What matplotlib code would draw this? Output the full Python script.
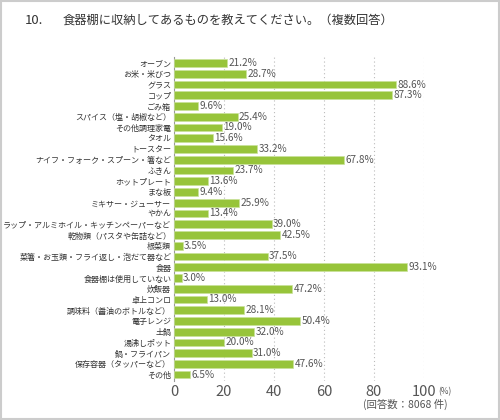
import numpy as np
import matplotlib
matplotlib.use("Agg")
import matplotlib.pyplot as plt
from matplotlib.patches import Rectangle

plt.rcParams['font.family'] = ['Noto Sans CJK JP', 'DejaVu Sans']

# データ
labels = [
    "オーブン", "お米・米びつ", "グラス", "コップ", "ごみ箱",
    "スパイス（塩・胡椒など）", "その他調理家電", "タオル", "トースター",
    "ナイフ・フォーク・スプーン・箸など", "ふきん", "ホットプレート", "まな板",
    "ミキサー・ジューサー", "やかん", "ラップ・アルミホイル・キッチンペーパーなど",
    "乾物類（パスタや缶詰など）", "根菜類", "菜箸・お玉類・フライ返し・泡だて器など",
    "食器", "食器棚は使用していない", "炊飯器", "卓上コンロ",
    "調味料（醤油のボトルなど）", "電子レンジ", "土鍋", "湯沸しポット",
    "鍋・フライパン", "保存容器（タッパーなど）", "その他",
]
values = [21.2, 28.7, 88.6, 87.3, 9.6, 25.4, 19.0, 15.6, 33.2, 67.8,
          23.7, 13.6, 9.4, 25.9, 13.4, 39.0, 42.5, 3.5, 37.5, 93.1,
          3.0, 47.2, 13.0, 28.1, 50.4, 32.0, 20.0, 31.0, 47.6, 6.5]
xticks = [0, 20, 40, 60, 80, 100]

GREEN = "#97c43a"
TXT = "#333333"

fig = plt.figure(figsize=(5, 4.2), dpi=100)
ax = fig.add_axes([0.348, 0.094, 0.5, 0.77])

y = np.arange(len(labels))
ax.barh(y, values, height=0.72, color=GREEN, edgecolor="#c9e29a", linewidth=0.5, zorder=3)
for yi, v in zip(y, values):
    ax.text(v + 0.6, yi, f"{v:.1f}%", va="center", ha="left",
            fontsize=7.2, color="#555555", zorder=4)

ax.set_ylim(len(labels) - 0.45, -0.55)
ax.set_xlim(0, 100)
ax.set_yticks(y)
ax.set_yticklabels(labels, fontsize=5.8, color=TXT)
ax.set_xticks(xticks)
ax.set_xticklabels([str(t) for t in xticks], fontsize=10.5, color="#555555")
ax.tick_params(axis="both", length=0, pad=2)
ax.tick_params(axis="x", pad=3)
ax.grid(axis="x", color="#bbbbbb", linestyle=(0, (1, 2.5)), linewidth=0.8, zorder=0)
for s in ["top", "right", "bottom"]:
    ax.spines[s].set_visible(False)
ax.spines["left"].set_color("#999999")
ax.spines["left"].set_linewidth(0.8)

# タイトル
fig.text(0.05, 0.952, "10.", fontsize=9.5, color="#333333", va="center")
fig.text(0.125, 0.952, "食器棚に収納してあるものを教えてください。（複数回答）",
         fontsize=8.8, color="#333333", va="center")

# 単位・回答数
fig.text(0.876, 0.067, "(%)", fontsize=6, color="#555555", va="center")
fig.text(0.726, 0.037, "(回答数：8068 件)", fontsize=7.5, color="#555555", va="center")

# 外枠
fig.patches.append(Rectangle((0.002, 0.003), 0.996, 0.994, transform=fig.transFigure,
                             fill=False, edgecolor="#cccccc", linewidth=1.5))

fig.savefig("out.png", dpi=100)
